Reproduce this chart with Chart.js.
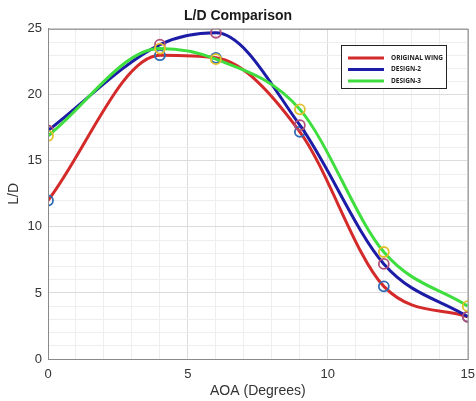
<!DOCTYPE html>
<html>
<head>
<meta charset="utf-8">
<script src="https://cdn.jsdelivr.net/npm/chart.js@4"></script>
<style>
  html, body { margin: 0; padding: 0; background: #fff; }
  #wrap { width: 476px; height: 401px; }
</style>
</head>
<body>
<div id="wrap"><canvas id="ldChart" width="476" height="401"></canvas></div>
<script>
// Angle of attack (degrees)
const aoa = [0, 4, 6, 9, 12, 15];

// L/D values
const originalWing = [12.0, 23.0, 22.8, 17.2, 5.5, 3.2];
const design2 = [17.3, 23.8, 24.7, 17.7, 7.2, 3.2];
const design3 = [16.9, 23.5, 22.7, 18.9, 8.1, 4.0];

const seriesNames = ["ORIGINAL WING", "DESIGN-2", "DESIGN-3"];

const toPoints = (ys) => ys.map((y, i) => ({ x: aoa[i], y }));

function makeSet(label, data, line, marker, order) {
    return {
        label,
        data: toPoints(data),
        order,
        borderColor: line,
        borderWidth: 3,
        cubicInterpolationMode: "monotone",
        pointStyle: "circle",
        pointRadius: 5,
        pointBorderWidth: 1.8,
        pointBorderColor: marker,
        pointBackgroundColor: "rgba(0,0,0,0)",
        fill: false
    };
}

// frame around plot + custom legend box (MATLAB style)
const framePlugin = {
    id: "frame",
    afterDraw(chart) {
        const { ctx, chartArea: a } = chart;
        ctx.save();
        ctx.strokeStyle = "#8a8a8a";
        ctx.lineWidth = 1;
        ctx.strokeRect(a.left + 0.5, a.top + 0.5, a.right - a.left, a.bottom - a.top);

        // legend
        const bx = 341, by = 45, bw = 105, bh = 43;
        ctx.fillStyle = "#fff";
        ctx.fillRect(bx, by, bw, bh);
        ctx.strokeStyle = "#222";
        ctx.strokeRect(bx + 0.5, by + 0.5, bw, bh);
        ctx.font = "bold 6.5px 'Open Sans', 'Liberation Sans', sans-serif";
        ctx.textBaseline = "middle";
        chart.data.datasets.forEach((ds, i) => {
            const y = by + 13 + i * 11.5;
            ctx.strokeStyle = ds.borderColor;
            ctx.lineWidth = 3;
            ctx.beginPath();
            ctx.moveTo(bx + 7, y);
            ctx.lineTo(bx + 43, y);
            ctx.stroke();
            ctx.fillStyle = "#222";
            ctx.fillText(ds.label, bx + 50, y);
        });
        ctx.restore();
    }
};

const gridColor = (c) => (c.tick && c.tick.value % 5 === 0 ? "#dcdcdc" : "#eeeeee");
const font = "'Liberation Sans', Arial, sans-serif";

new Chart(document.getElementById("ldChart"), {
    type: "line",
    data: {
        datasets: [
            makeSet(seriesNames[0], originalWing, "#d42a2a", "#2f6db5", 2),
            makeSet(seriesNames[1], design2, "#1c1ca6", "#b4507a", 1),
            makeSet(seriesNames[2], design3, "#3ede3e", "#e3bf2a", 0)
        ]
    },
    options: {
        responsive: false,
        animation: false,
        layout: { padding: { left: 0, right: 0, top: 0, bottom: 1 } },
        plugins: {
            legend: { display: false },
            tooltip: { enabled: false },
            title: {
                display: true,
                text: "L/D Comparison",
                color: "#1a1a1a",
                font: { family: font, size: 14, weight: "bold" },
                padding: { top: 8, bottom: 4 }
            }
        },
        scales: {
            x: {
                type: "linear",
                min: 0,
                max: 15,
                afterFit: (s) => { s.height = 41; },
                ticks: {
                    stepSize: 1,
                    autoSkip: false,
                    maxRotation: 0,
                    color: "#333",
                    padding: 1,
                    font: { family: font, size: 13 },
                    callback: (v) => (v % 5 === 0 ? v : "")
                },
                grid: { color: gridColor, drawTicks: true, tickLength: 7, tickColor: "rgba(0,0,0,0)" },
                border: { color: "#8a8a8a" },
                title: {
                    display: true,
                    text: "AOA (Degrees)",
                    color: "#333",
                    padding: { top: 0, bottom: 0 },
                    font: { family: font, size: 14 }
                }
            },
            y: {
                min: 0,
                max: 25,
                afterFit: (s) => { s.width = 48; },
                ticks: {
                    stepSize: 1,
                    autoSkip: false,
                    color: "#333",
                    padding: 6,
                    font: { family: font, size: 13 },
                    callback: (v) => (v % 5 === 0 ? v : "")
                },
                grid: { color: gridColor, drawTicks: false },
                border: { color: "#8a8a8a" },
                title: {
                    display: true,
                    text: "L/D",
                    color: "#333",
                    padding: { top: 6, bottom: 0 },
                    font: { family: font, size: 14 }
                }
            }
        }
    },
    plugins: [framePlugin]
});
</script>
</body>
</html>
